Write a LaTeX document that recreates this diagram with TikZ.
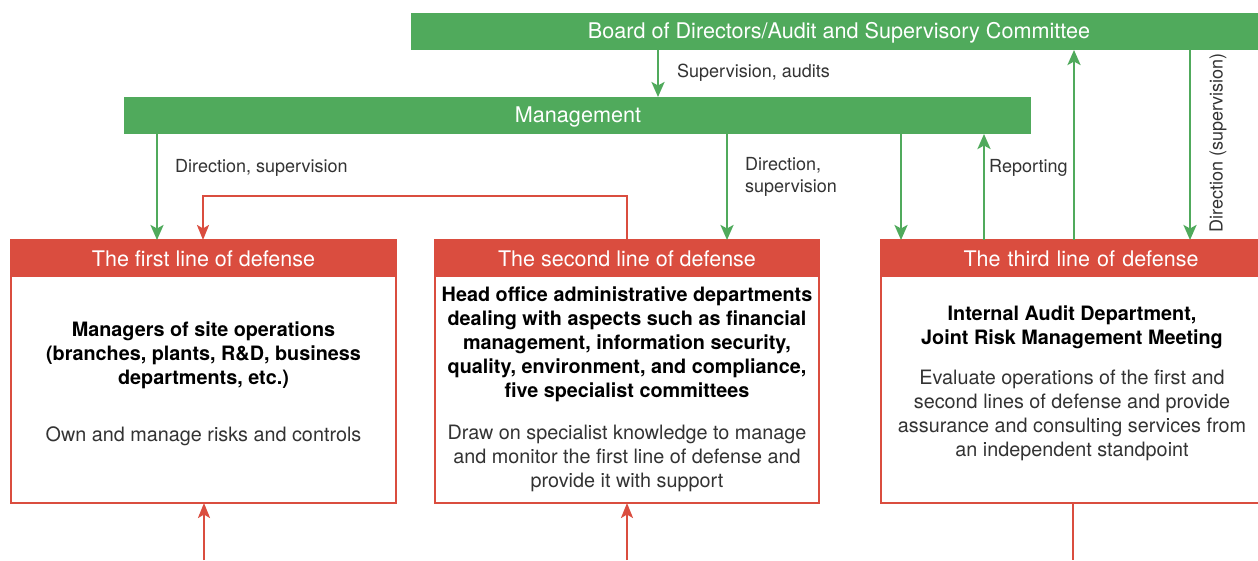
\documentclass[tikz,border=0pt]{standalone}
\usepackage{fontspec}
\setmainfont{TeX Gyre Heros}
\usetikzlibrary{arrows.meta}
\definecolor{brandgreen}{HTML}{50AA5C}
\definecolor{brandred}{HTML}{DA4D3F}
\definecolor{bodytext}{HTML}{333333}
\begin{document}
\begin{tikzpicture}[x=1pt,y=-1pt,
  bar/.style={fill=brandgreen,draw=none,anchor=north west,inner sep=0pt,outer sep=0pt},
  bartxt/.style={text=white,font=\fontsize{21.6}{23}\selectfont},
  head/.style={fill=brandred,draw=none,anchor=north west,inner sep=0pt,outer sep=0pt,
    minimum height=37pt,text=white,font=\fontsize{21.5}{23}\selectfont},
  panel/.style={draw=brandred,line width=1.6pt,anchor=north west,inner sep=0pt,outer sep=0pt,
    minimum height=263pt},
  boldtxt/.style={align=center,text=black,font=\bfseries\fontsize{19.8}{24}\selectfont},
  plaintxt/.style={align=center,text=bodytext,font=\fontsize{19.8}{24}\selectfont},
  lbl/.style={text=bodytext,font=\fontsize{18}{22}\selectfont,inner sep=0pt,anchor=west,align=left},
  garrow/.style={draw=brandgreen,line width=2.5pt,-{Stealth[length=15pt,width=13pt,inset=3.5pt]}},
  rarrow/.style={draw=brandred,line width=2.2pt,-{Stealth[length=15pt,width=12pt,inset=3.5pt]}},
  rline/.style={draw=brandred,line width=2.2pt}]
\clip (0,0) rectangle (1258,560);
\fill[white] (0,0) rectangle (1258,560);

% governance bars
\node[bar,minimum width=860pt,minimum height=37pt] (board) at (411,13) {};
\node[bartxt] (boardtxt) at (839,32.5) {Board of Directors/Audit and Supervisory Committee};
\node[bar,minimum width=907pt,minimum height=37pt] (mgmt) at (124,97) {};
\node[bartxt] (mgmttxt) at (578,116.5) {Management};

% the three lines of defense
\node[panel,minimum width=385pt] (p1) at (11,240) {};
\node[head,minimum width=385pt] (h1) at (11,240) {The first line of defense};
\node[panel,minimum width=384pt] (p2) at (435,240) {};
\node[head,minimum width=384pt] (h2) at (435,240) {The second line of defense};
\node[panel,minimum width=400pt] (p3) at (881,240) {};
\node[head,minimum width=400pt,text width=377pt,align=center] (h3) at (881,240) {The third line of defense};

% panel texts
\node[boldtxt] (t1a) at (203.5,355) {Managers of site operations\\(branches, plants, R\&D, business\\departments, etc.)};
\node[plaintxt] (t1b) at (203.5,436) {Own and manage risks and controls};
\node[boldtxt] (t2a) at (627,344.5) {Head office administrative departments\\dealing with aspects such as financial\\management, information security,\\quality, environment, and compliance,\\five specialist committees};
\node[plaintxt] (t2b) at (627,458) {Draw on specialist knowledge to manage\\and monitor the first line of defense and\\provide it with support};
\node[boldtxt] (t3a) at (1072,327) {Internal Audit Department,\\Joint Risk Management Meeting};
\node[plaintxt] (t3b) at (1072,415) {Evaluate operations of the first and\\second lines of defense and provide\\assurance and consulting services from\\an independent standpoint};

% connector columns
\coordinate (xa) at (658,0);
\coordinate (x1) at (157,0);
\coordinate (x1r) at (203,0);
\coordinate (x2) at (727,0);
\coordinate (x2r) at (627,0);
\coordinate (x3a) at (901,0);
\coordinate (x3b) at (984,0);
\coordinate (x3c) at (1074,0);
\coordinate (x3d) at (1190,0);
\coordinate (ylink) at (0,196);
\coordinate (b1) at (204,560);
\coordinate (b2) at (627,560);
\coordinate (b3) at (1073,560);

% green supervision and reporting arrows
\draw[garrow] (board.south -| xa) -- (mgmt.north -| xa);
\draw[garrow] (mgmt.south -| x1) -- (h1.north -| x1);
\draw[garrow] (mgmt.south -| x2) -- (h2.north -| x2);
\draw[garrow] (mgmt.south -| x3a) -- (h3.north -| x3a);
\draw[garrow] (h3.north -| x3b) -- (mgmt.south -| x3b);
\draw[garrow] (h3.north -| x3c) -- (board.south -| x3c);
\draw[garrow] (board.south -| x3d) -- (h3.north -| x3d);

% red link from the second line to the first line
\draw[rarrow] (h2.north -| x2r) -- (ylink -| x2r) -- (ylink -| x1r) -- (h1.north -| x1r);

% red connectors at the bottom
\draw[rarrow] (b1) -- (p1.south -| b1);
\draw[rarrow] (b2) -- (p2.south -| b2);
\draw[rline] (p3.south -| b3) -- (b3);

% arrow labels
\node[lbl] (l0) at (677,73) {Supervision, audits};
\node[lbl] (l1) at (175,168) {Direction, supervision};
\node[lbl,anchor=north west] (l2) at (745,157) {Direction,\\supervision};
\node[lbl] (l3) at (989,168) {Reporting};
\node[lbl,rotate=90,anchor=center] (l4) at (1218,143) {Direction (supervision)};
\end{tikzpicture}
\end{document}
